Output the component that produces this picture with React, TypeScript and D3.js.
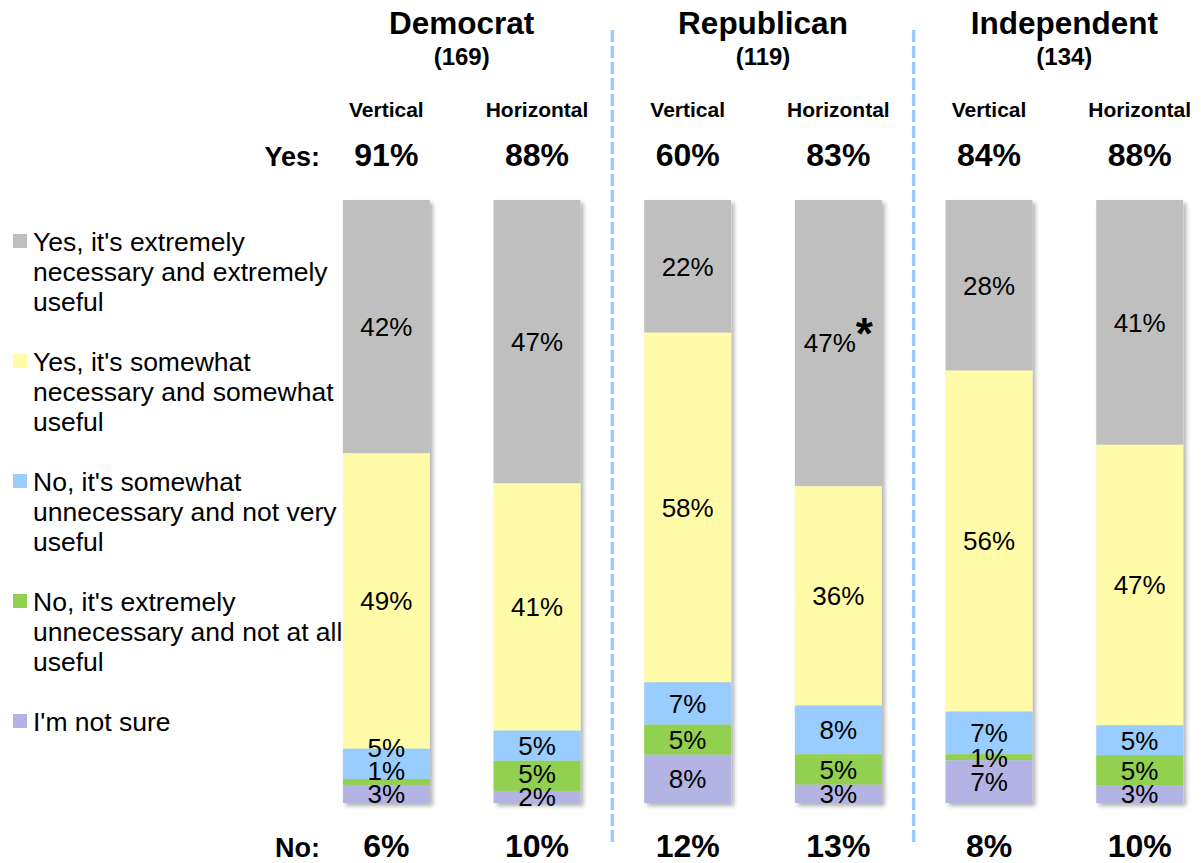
import React from "react";
import * as d3 from "d3";

const groups = ["Democrat", "Republican", "Independent"];
const groupSizes = ["(169)", "(119)", "(134)"];
const formats = ["Vertical", "Horizontal"];
const barKeys = ["D-V", "D-H", "R-V", "R-H", "I-V", "I-H"];

const categories = [
  ["Yes, it's extremely", "necessary and extremely", "useful"],
  ["Yes, it's somewhat", "necessary and somewhat", "useful"],
  ["No, it's somewhat", "unnecessary and not very", "useful"],
  ["No, it's extremely", "unnecessary and not at all", "useful"],
  ["I'm not sure"],
];
const colors = ["#BFBFBF", "#FFFBA9", "#99CCFF", "#92D050", "#B4B4E4"];

const extremelyYes = [42, 47, 22, 47, 28, 41];
const somewhatYes = [49, 41, 58, 36, 56, 47];
const somewhatNo = [5, 5, 7, 8, 7, 5];
const extremelyNo = [1, 5, 5, 5, 1, 5];
const notSure = [3, 2, 8, 3, 7, 3];
const yesTotals = [91, 88, 60, 83, 84, 88];
const noTotals = [6, 10, 12, 13, 8, 10];
const starredBar = "R-H";

const series = [extremelyYes, somewhatYes, somewhatNo, extremelyNo, notSure];
const FONT = "Arial, 'Liberation Sans', sans-serif";

export default function App() {
  const W = 1201, H = 863;
  const x = d3
    .scaleBand<string>()
    .domain(barKeys)
    .range([311, 1215])
    .paddingInner(0.423)
    .paddingOuter(0.2115);
  const y = d3.scaleLinear().domain([0, 1]).range([200, 803]);
  const bw = x.bandwidth();

  const bars = barKeys.map((k, i) => {
    const vals = series.map((s) => s[i]);
    const total = d3.sum(vals);
    let cum = 0;
    const segs = vals.map((v, j) => {
      const y0 = y(cum / total);
      cum += v;
      const y1 = y(cum / total);
      return { v, j, y0, y1, c: (y0 + y1) / 2 };
    });
    // label positions: resolve overlaps bottom-up
    const pos = segs.map((s) => s.c);
    for (let j = pos.length - 2; j >= 0; j--) {
      pos[j] = Math.min(pos[j], pos[j + 1] - 23);
    }
    return { k, i, segs, pos, cx: (x(k) as number) + bw / 2 };
  });

  const groupCenters = groups.map(
    (_, g) => ((x(barKeys[g * 2]) as number) + (x(barKeys[g * 2 + 1]) as number) + bw) / 2
  );
  const seps = [1, 2].map(
    (g) => ((x(barKeys[g * 2 - 1]) as number) + bw + (x(barKeys[g * 2]) as number)) / 2
  );

  return (
    <svg
      width={W}
      height={H}
      style={{ position: "absolute", left: 0, top: 0, background: "#fff" }}
      fontFamily={FONT}
    >
      <defs>
        <filter id="shadow" x="-10%" y="-10%" width="130%" height="130%">
          <feDropShadow dx="3" dy="3" stdDeviation="2" floodColor="#000" floodOpacity="0.3" />
        </filter>
      </defs>

      {seps.map((sx, i) => (
        <line
          key={i}
          x1={sx}
          x2={sx}
          y1={30}
          y2={843}
          stroke="#99CCFF"
          strokeWidth={3.5}
          strokeDasharray="12 4"
        />
      ))}

      {groups.map((g, gi) => (
        <g key={g}>
          <text x={groupCenters[gi]} y={34} textAnchor="middle" fontWeight="bold" fontSize={31.5}>
            {g}
          </text>
          <text x={groupCenters[gi]} y={65} textAnchor="middle" fontWeight="bold" fontSize={24}>
            {groupSizes[gi]}
          </text>
        </g>
      ))}

      <text x={320} y={166} textAnchor="end" fontWeight="bold" fontSize={27}>Yes:</text>
      <text x={320} y={857} textAnchor="end" fontWeight="bold" fontSize={27}>No:</text>

      {bars.map((b) => (
        <g key={b.k}>
          <text x={b.cx} y={117} textAnchor="middle" fontWeight="bold" fontSize={21}>
            {formats[b.i % 2]}
          </text>
          <text x={b.cx} y={166} textAnchor="middle" fontWeight="bold" fontSize={32}>
            {yesTotals[b.i]}%
          </text>
          <text x={b.cx} y={857} textAnchor="middle" fontWeight="bold" fontSize={32}>
            {noTotals[b.i]}%
          </text>
          <g filter="url(#shadow)">
            {b.segs.map((s) => (
              <rect
                key={s.j}
                x={x(b.k)}
                y={s.y0}
                width={bw}
                height={Math.max(0, s.y1 - s.y0)}
                fill={colors[s.j]}
              />
            ))}
          </g>
          {b.segs.map((s, j) => (
            <text
              key={j}
              x={b.cx}
              y={b.pos[j]}
              dy="0.36em"
              textAnchor="middle"
              fontSize={26}
              fill="#000"
            >
              {s.v}%
              {b.k === starredBar && j === 0 ? (
                <tspan fontWeight="bold" fontSize={44} dy="-3">*</tspan>
              ) : null}
            </text>
          ))}
        </g>
      ))}

      {categories.map((lines, i) => (
        <g key={i} transform={`translate(0, ${i * 120})`}>
          <rect x={13} y={234} width={14} height={14} fill={colors[i]} />
          {lines.map((ln, li) => (
            <text key={li} x={33} y={251 + li * 30} fontSize={26.5} fill="#000">
              {ln}
            </text>
          ))}
        </g>
      ))}
    </svg>
  );
}
